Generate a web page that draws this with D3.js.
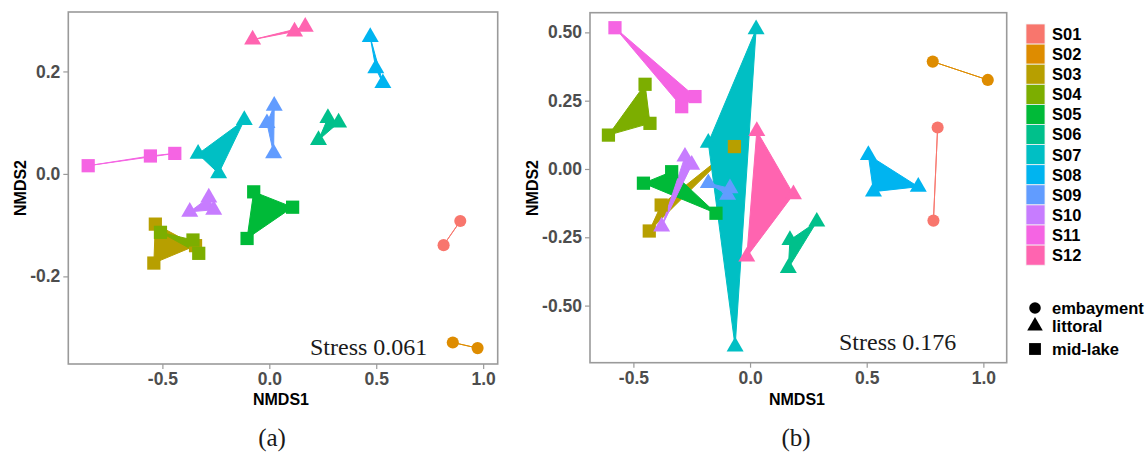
<!DOCTYPE html>
<html>
<head>
<meta charset="utf-8">
<script src="https://cdn.jsdelivr.net/npm/d3@7"></script>
<style>
  html, body { margin: 0; padding: 0; background: #fff; }
  svg { display: block; }
</style>
</head>
<body>
<div id="chart"></div>
<script>
// sites and their habitat (shape)
const sites = ["S01", "S02", "S03", "S04", "S05", "S06", "S07", "S08", "S09", "S10", "S11", "S12"];
const siteHabitat = ["embayment", "embayment", "mid-lake", "mid-lake", "mid-lake", "littoral",
    "littoral", "littoral", "littoral", "littoral", "mid-lake", "littoral"];
const siteColors = ["#F8766D", "#DE8C00", "#B79F00", "#7CAE00", "#00BA38", "#00C08B",
    "#00BFC4", "#00B4F0", "#619CFF", "#C77CFF", "#F564E3", "#FF64B0"];
const habitats = ["embayment", "littoral", "mid-lake"];

// NMDS scores, panel (a): [site, NMDS1, NMDS2]
const pointsA = [
    ["S01", 0.893, -0.092], ["S01", 0.815, -0.139],
    ["S02", 0.858, -0.329], ["S02", 0.974, -0.340],
    ["S03", -0.533, -0.098], ["S03", -0.540, -0.174], ["S03", -0.345, -0.140],
    ["S04", -0.509, -0.114], ["S04", -0.357, -0.129], ["S04", -0.330, -0.155],
    ["S05", -0.073, -0.035], ["S05", 0.109, -0.065], ["S05", -0.104, -0.126],
    ["S06", 0.274, 0.109], ["S06", 0.324, 0.100], ["S06", 0.230, 0.066],
    ["S07", -0.117, 0.105], ["S07", -0.333, 0.039], ["S07", -0.237, 0.001],
    ["S08", 0.472, 0.267], ["S08", 0.498, 0.206], ["S08", 0.531, 0.177],
    ["S09", 0.023, 0.133], ["S09", -0.011, 0.099], ["S09", 0.020, 0.040],
    ["S10", -0.283, -0.046], ["S10", -0.372, -0.074], ["S10", -0.260, -0.070],
    ["S11", -0.847, 0.016], ["S11", -0.556, 0.035], ["S11", -0.442, 0.040],
    ["S12", -0.078, 0.262], ["S12", 0.118, 0.278], ["S12", 0.168, 0.287]
];

// NMDS scores, panel (b)
const pointsB = [
    ["S01", 0.804, 0.152], ["S01", 0.786, -0.189],
    ["S02", 0.783, 0.393], ["S02", 1.019, 0.326],
    ["S03", -0.067, 0.082], ["S03", -0.381, -0.132], ["S03", -0.432, -0.227],
    ["S04", -0.450, 0.310], ["S04", -0.607, 0.124], ["S04", -0.429, 0.167],
    ["S05", -0.457, -0.052], ["S05", -0.336, -0.010], ["S05", -0.146, -0.162],
    ["S06", 0.286, -0.193], ["S06", 0.171, -0.260], ["S06", 0.164, -0.363],
    ["S07", 0.026, 0.511], ["S07", -0.179, 0.096], ["S07", -0.064, -0.650],
    ["S08", 0.507, 0.051], ["S08", 0.721, -0.065], ["S08", 0.529, -0.083],
    ["S09", -0.179, -0.052], ["S09", -0.086, -0.071], ["S09", -0.096, -0.095],
    ["S10", -0.279, 0.045], ["S10", -0.250, 0.015], ["S10", -0.379, -0.211],
    ["S11", -0.579, 0.517], ["S11", -0.293, 0.228], ["S11", -0.236, 0.265],
    ["S12", 0.029, 0.139], ["S12", 0.186, -0.093], ["S12", -0.014, -0.321]
];

const xTicks = [-0.5, 0.0, 0.5, 1.0];
const yTicksA = [-0.2, 0.0, 0.2];
const yTicksB = [-0.5, -0.25, 0.0, 0.25, 0.5];

const W = 1148, H = 452;
const FRAME = "#9a9a9a";
const TICK_TEXT = "#4d4d4d";

const color = d3.scaleOrdinal().domain(sites).range(siteColors);
const habitatOf = d3.scaleOrdinal().domain(sites).range(siteHabitat);
const symbolType = d3.scaleOrdinal().domain(habitats)
    .range([d3.symbolCircle, d3.symbolTriangle, d3.symbolSquare]);
const symbolSize = d3.scaleOrdinal().domain(habitats).range([115, 125, 175]);

const svg = d3.select("#chart").append("svg")
    .attr("width", W).attr("height", H)
    .style("font-family", "'Liberation Sans', Arial, sans-serif");

function drawPanel(points, opts) {
    const x = d3.scaleLinear().domain(opts.xDomain).range([opts.left, opts.right]);
    const y = d3.scaleLinear().domain(opts.yDomain).range([opts.bottom, opts.top]);
    const g = svg.append("g");

    // polygons per site (drawn first, like geom_polygon)
    const groups = d3.groups(points, (d) => d[0]);
    g.append("g").selectAll("path")
        .data(groups)
        .join("path")
        .attr("d", ([, pts]) => "M" + pts.map((p) => `${x(p[1])},${y(p[2])}`).join("L") + "Z")
        .attr("fill", ([site]) => color(site))
        .attr("stroke", ([site]) => color(site))
        .attr("stroke-width", 1)
        .attr("stroke-linejoin", "round");

    // points
    g.append("g").selectAll("path")
        .data(points)
        .join("path")
        .attr("transform", (d) => `translate(${x(d[1])},${y(d[2])})`)
        .attr("d", (d) => d3.symbol(symbolType(habitatOf(d[0])), symbolSize(habitatOf(d[0])))())
        .attr("fill", (d) => color(d[0]));

    // axes
    const xAxis = g.append("g")
        .attr("transform", `translate(0,${opts.bottom})`)
        .call(d3.axisBottom(x).tickValues(xTicks).tickFormat(d3.format(".1f")).tickSize(5).tickPadding(4));
    const yAxis = g.append("g")
        .attr("transform", `translate(${opts.left},0)`)
        .call(d3.axisLeft(y).tickValues(opts.yTicks).tickFormat(d3.format(opts.yFormat)).tickSize(5).tickPadding(3));
    [xAxis, yAxis].forEach((ax) => {
        ax.select(".domain").remove();
        ax.selectAll(".tick line").attr("stroke", FRAME).attr("stroke-width", 1.2);
        ax.selectAll(".tick text")
            .attr("fill", TICK_TEXT)
            .style("font-size", "17.5px")
            .style("font-weight", "bold")
            .style("font-family", "'Liberation Sans', Arial, sans-serif")
            .text(function () { return d3.select(this).text().replace("−", "-"); });
    });

    // frame
    g.append("rect")
        .attr("x", opts.left).attr("y", opts.top)
        .attr("width", opts.right - opts.left).attr("height", opts.bottom - opts.top)
        .attr("fill", "none").attr("stroke", FRAME).attr("stroke-width", 1.6);

    // axis titles
    g.append("text")
        .attr("x", opts.xTitleX).attr("y", 405)
        .attr("text-anchor", "middle")
        .style("font-size", "16px").style("font-weight", "bold")
        .text("NMDS1");
    g.append("text")
        .attr("transform", `translate(${opts.yTitleX},188) rotate(-90)`)
        .attr("text-anchor", "middle")
        .attr("dy", "0.35em")
        .style("font-size", "16px").style("font-weight", "bold")
        .text("NMDS2");

    // stress annotation
    g.append("text")
        .attr("x", opts.stressX).attr("y", opts.stressY)
        .style("font-family", "'Liberation Serif', 'Times New Roman', serif")
        .style("font-size", "24px")
        .attr("fill", "#1a1a1a")
        .text(opts.stress);

    // panel caption
    g.append("text")
        .attr("x", opts.captionX).attr("y", 446)
        .attr("text-anchor", "middle")
        .style("font-family", "'Liberation Serif', 'Times New Roman', serif")
        .style("font-size", "25px")
        .attr("fill", "#1a1a1a")
        .text(opts.caption);
}

drawPanel(pointsA, {
    left: 68.3, right: 497.7, top: 12, bottom: 364,
    xDomain: [-0.94, 1.068], yDomain: [-0.371, 0.316],
    yTicks: yTicksA, yFormat: ".1f",
    xTitleX: 281, yTitleX: 20,
    stress: "Stress 0.061", stressX: 310, stressY: 355,
    caption: "(a)", captionX: 272
});

drawPanel(pointsB, {
    left: 590, right: 1006.7, top: 12.7, bottom: 362.7,
    xDomain: [-0.686, 1.100], yDomain: [-0.709, 0.572],
    yTicks: yTicksB, yFormat: ".2f",
    xTitleX: 797, yTitleX: 532.5,
    stress: "Stress 0.176", stressX: 839, stressY: 350,
    caption: "(b)", captionX: 796
});

// legend: site colours
const keyH = 20.1, keyW = 19, keyX = 1026, keyY = 24;
const legend = svg.append("g");
const rows = legend.selectAll("g.site")
    .data(sites)
    .join("g")
    .attr("class", "site")
    .attr("transform", (d, i) => `translate(${keyX},${keyY + i * keyH})`);
rows.append("rect")
    .attr("width", keyW).attr("height", keyH)
    .attr("fill", (d) => color(d))
    .attr("stroke", "#f2f2f2").attr("stroke-width", 0.8);
rows.append("text")
    .attr("x", 26).attr("y", keyH / 2).attr("dy", "0.36em")
    .style("font-size", "16.5px").style("font-weight", "bold")
    .text((d) => d);

// legend: habitat shapes
const shapeY = [308, 326, 349];
const shapes = legend.selectAll("g.shape")
    .data(habitats)
    .join("g")
    .attr("class", "shape")
    .attr("transform", (d, i) => `translate(${keyX + 9},${shapeY[i]})`);
shapes.append("path")
    .attr("d", (d) => d3.symbol(symbolType(d), d === "mid-lake" ? 140 : 105)())
    .attr("fill", "#000");
shapes.append("text")
    .attr("x", 17).attr("dy", "0.36em")
    .style("font-size", "16.5px").style("font-weight", "bold")
    .text((d) => d);
</script>
</body>
</html>
